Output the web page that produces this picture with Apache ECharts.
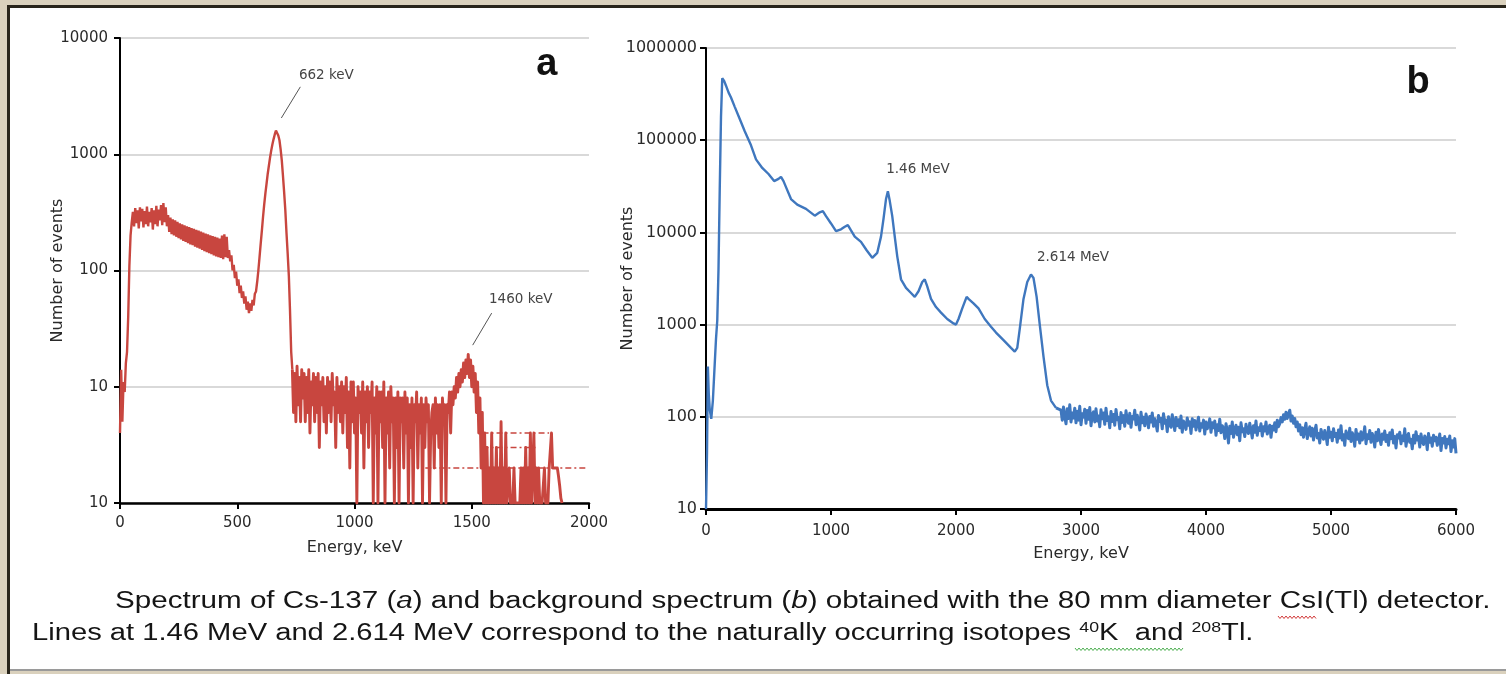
<!DOCTYPE html>
<html><head><meta charset="utf-8">
<script src="https://cdn.jsdelivr.net/npm/echarts@6/dist/echarts.min.js"></script>
<style>html,body{margin:0;padding:0;background:#fff;}#c{width:1506px;height:674px;}</style>
</head><body><div id="c"></div>
<script>
// ---------- DATA ----------
// Panel a: Cs-137 spectrum, counts per channel, channels every 5 keV starting at 0 keV
const channelStepA = 5;
const countsA = [
 4,14,5,11,9,16,20,40,110,200,260,
 320,240,345,255,330,230,350,265,340,235,325,250,355,240,320,260,345,225,330,250,360,240,335,270,365,245,380,260,350,240,
 300,215,285,205,275,200,270,195,262,190,
 255,185,250,180,245,176,240,172,236,168,
 232,165,228,160,224,157,220,154,216,150,
 212,147,208,144,205,141,201,138,198,135,
 195,132,192,130,188,128,200,125,205,130,
 195,128,
 150,120,135,100,112,86,98,74,84,64,74,58,66,52,60,46,54,43,52,45,56,50,63,66,80,100,130,170,220,290,
 370,460,560,680,800,940,1080,1220,1350,1480,1600,1560,1450,1320,1100,880,650,470,330,210,140,90,45,20,14,
 6,13,5,15,7,12,5,14,8,13,
 5,12,6,14,4,11,7,13,5,12,
 6,13,3,11,7,12,5,10,4,12,
 6,11,5,13,7,9,3,12,6,10,
 5,11,4,10,6,12,3,9,2,11,
 5,11,4,8,1,10,6,9,4,11,
 2,9,5,10,3,9,6,11,1,8,
 4,10,1,9,5,9,3,11,1,8,
 4,9,2,10,5,8,1,8,3,9,
 1,8,5,8,2,9,4,8,1,7,
 3,8,1,7,5,9,2,7,4,8,
 1,7,3,8,5,7,1,4,6,7,
 2,8,4,7,3,7,1,8,5,7,
 1,7,6,9,4,9,7,10,8,12,
 9,13,10,14,11,16,12,17,13,19,
 12,17,10,15,9,13,6,11,4,8,
 2,6,1,4,1,3,1,2,1,4,
 1,2,1,3,1,2,1,5,1,2,
 1,4,1,1,2,1,1,1,2,1,
 1,1,1,1,2,1,2,1,3,1,
 2,1,4,1,2,4,1,2,1,2,
 1,1,1,1,2,1,1,1,2,2,
 4,2,2,2,2,2,1.7,1.4,1.1,1
];
const noiseStartIndexA = 147; // channel index (735 keV) where the noisy high-energy part begins
// Panel a: dotted count levels (value, from keV, to keV)
const dotLevelsA = [4, 3, 2];
const dotFromA = [1546, 1546, 1302];
const dotToA = [1830, 1780, 1990];

// Panel b: background spectrum, main part (energy keV, counts)
const energyB = [0,8,15,22,30,42,55,70,80,90,100,110,120,130,145,160,180,200,230,270,
 310,360,400,450,500,545,580,600,620,640,680,730,800,870,910,935,960,1000,1040,1080,
 1110,1135,1160,1190,1240,1285,1330,1370,1400,1420,1440,1455,1470,1490,1510,1530,1560,1600,1640,1670,
 1700,1730,1750,1770,1800,1840,1880,1930,1980,2000,2020,2050,2085,2100,2140,2180,2230,2280,2320,2380,
 2440,2470,2490,2510,2540,2570,2600,2620,2645,2670,2700,2730,2760,2800];
const countsB = [10,40,350,180,120,95,150,380,700,1100,4000,30000,180000,470000,440000,390000,330000,290000,230000,170000,
 125000,88000,62000,50000,43000,36000,38000,40000,36000,31000,23000,20000,18000,15200,16500,17000,15000,12500,10300,10800,
 11500,12000,10500,9000,7900,6400,5300,6000,9000,14000,23000,28000,22000,15000,9000,5500,3100,2500,2200,2000,
 2300,2900,3100,2600,1900,1550,1350,1150,1030,1000,1150,1500,2000,1900,1700,1500,1150,950,820,680,
 560,510,560,900,1900,2900,3500,3200,2000,1000,450,220,150,125];
// Panel b: noisy tail, channels every 10 keV from 2840 keV
const tailStartB = 2840, tailStepB = 10;
const tailCountsB = [
 118,92,128,101,84,122,96,135,88,110,
 97,124,86,115,92,130,82,108,99,121,
 85,117,94,126,80,105,113,88,122,90,
 102,78,119,95,110,83,124,91,100,76,
 114,89,106,81,120,93,98,74,111,87,
 103,79,116,92,85,109,77,101,95,118,
 82,104,90,72,112,86,99,80,107,93,
 76,101,88,110,79,95,84,70,103,89,
 96,74,108,85,92,69,100,83,77,105,
 87,71,98,80,93,76,102,68,90,84,
 73,97,81,88,66,95,79,91,72,86,
 99,70,84,77,92,65,88,74,81,95,
 68,86,76,90,63,82,71,94,67,80,
 75,58,84,70,52,79,66,88,60,73,
 81,64,77,55,86,69,74,61,83,70,
 66,85,72,59,80,68,90,63,76,71,
 84,62,78,70,88,65,74,81,60,79,
 72,86,69,92,78,84,98,88,105,94,
 112,96,108,118,90,102,85,96,78,88,
 70,82,64,76,60,73,85,58,69,78,
 62,75,56,70,81,59,66,52,73,64,
 57,71,63,50,77,60,68,55,74,61,
 66,53,72,59,80,56,64,49,70,62,
 58,75,54,67,61,48,73,57,65,52,
 69,56,62,78,51,64,58,71,53,66,
 60,47,68,55,73,59,50,65,57,70,
 54,63,49,67,58,72,52,61,46,64,
 59,68,51,62,55,74,48,60,66,53,
 57,45,63,52,69,56,61,47,65,54,
 50,62,58,44,66,53,59,48,63,55,
 60,49,56,65,43,58,52,61,46,57,
 51,62,42,55,47,58,40
];

// Axis tick labels
const xTicksA = [0, 500, 1000, 1500, 2000];
const yTickLabelsA = ['10', '10', '100', '1000', '10000']; // as printed (bottom label reads "10")
const xTicksB = [0, 1000, 2000, 3000, 4000, 5000, 6000];
const yTickLabelsB = ['10', '100', '1000', '10000', '100000', '1000000'];

// Annotations (text, energy, count)
const annotTextA = ['662 keV', '1460 keV'];
const annotAtA = [[880, 4800], [1709, 56]];
const leaderFromA = [[769, 3800], [1585, 43]];
const leaderToA = [[688, 2050], [1504, 22.8]];
const annotTextB = ['1.46 MeV', '2.614 MeV'];
const annotAtB = [[1696, 48000], [2936, 5400]];
const panelLetterA = ['a', [1820, 5860]];
const panelLetterB = ['b', [5696, 427000]];

const captionLine1 = 'Spectrum of Cs-137 ({i|a}) and background spectrum ({i|b}) obtained with the 80 mm diameter CsI(Tl) detector.';
const captionLine2 = 'Lines at 1.46 MeV and 2.614 MeV correspond to the naturally occurring isotopes {sup|40}K  and {sup|208}Tl.';

// ---------- BUILD ----------
const allA = countsA.map((v, i) => [i * channelStepA, v]);
const dataA1 = allA.slice(0, noiseStartIndexA + 1);
const dataA2 = allA.slice(noiseStartIndexA);
const dataB1 = energyB.map((e, i) => [e, countsB[i]]);
const dataB2 = [dataB1[dataB1.length - 1]].concat(tailCountsB.map((v, i) => [tailStartB + i * tailStepB, v]));

const RED = '#c8463f', BLUE = '#3f77be';
const FONT = 'DejaVu Sans';
const tickColor = '#2a2a2a';

function xAxisCfg(grid, max, interval, axisW, fs, margin) {
  return {
    type: 'value', gridIndex: grid, min: 0, max: max, interval: interval,
    axisLine: { show: true, onZero: false, lineStyle: { color: '#000', width: axisW } },
    axisTick: { show: true, length: 6, lineStyle: { color: '#000', width: 2 } },
    axisLabel: { fontFamily: FONT, fontSize: fs, color: tickColor, margin: margin, formatter: v => String(v) },
    splitLine: { show: false },
    name: 'Energy, keV', nameLocation: 'middle', nameGap: 37, nameMoveOverlap: false,
    nameTextStyle: { fontFamily: FONT, fontSize: 16, color: tickColor }
  };
}
function yAxisCfg(grid, min, max, labels, gap, margin, fs) {
  return {
    type: 'log', logBase: 10, gridIndex: grid, min: min, max: max,
    axisLine: { show: true, lineStyle: { color: '#000', width: 2 } },
    axisTick: { show: true, length: 6, lineStyle: { color: '#000', width: 2 } },
    axisLabel: {
      fontFamily: FONT, fontSize: fs, color: tickColor, margin: margin,
      formatter: v => labels[Math.round(Math.log10(v) - Math.log10(min))]
    },
    splitLine: { show: true, lineStyle: { color: '#cdcdcd', width: 1.5 } },
    minorTick: { show: false },
    name: 'Number of events', nameLocation: 'middle', nameRotate: 90, nameGap: gap, nameMoveOverlap: false,
    nameTextStyle: { fontFamily: FONT, fontSize: 16, color: tickColor }
  };
}
const annotLabel = { show: true, position: 'inside', formatter: '{b}', fontFamily: FONT, fontSize: 13.5, color: '#444' };
const letterLabel = { fontFamily: 'Liberation Sans', fontSize: 38, fontWeight: 'bold', color: '#111' };

const series = [
  {
    type: 'line', xAxisIndex: 0, yAxisIndex: 0, data: dataA1, symbol: 'none', sampling: null,
    lineStyle: { color: RED, width: 2.4 }, z: 3, silent: true,
    markLine: {
      silent: true, symbol: ['none', 'none'], label: { show: false },
      lineStyle: { color: '#555', width: 1, type: 'solid' },
      data: leaderFromA.map((f, i) => [{ coord: f }, { coord: leaderToA[i] }])
    },
    markPoint: {
      silent: true, symbol: 'rect', symbolSize: 1, itemStyle: { color: 'rgba(0,0,0,0)' },
      label: annotLabel,
      data: annotTextA.map((t, i) => ({ name: t, coord: annotAtA[i] }))
        .concat([{ name: panelLetterA[0], coord: panelLetterA[1], label: letterLabel }])
    }
  },
  {
    type: 'line', xAxisIndex: 0, yAxisIndex: 0, data: dataA2, symbol: 'none', sampling: null,
    lineStyle: { color: RED, width: 2.9, join: 'round' }, z: 3, silent: true
  }
].concat(dotLevelsA.map((lv, i) => ({
  type: 'line', xAxisIndex: 0, yAxisIndex: 0, symbol: 'none', silent: true, z: 4,
  data: [[dotFromA[i], lv], [dotToA[i], lv]],
  lineStyle: { color: RED, width: 1.6, type: [6, 3, 2, 3] }
}))).concat([
  {
    type: 'line', xAxisIndex: 1, yAxisIndex: 1, data: dataB1, symbol: 'none', sampling: null,
    lineStyle: { color: BLUE, width: 2.4 }, z: 3, silent: true,
    markPoint: {
      silent: true, symbol: 'rect', symbolSize: 1, itemStyle: { color: 'rgba(0,0,0,0)' },
      label: annotLabel,
      data: annotTextB.map((t, i) => ({ name: t, coord: annotAtB[i] }))
        .concat([{ name: panelLetterB[0], coord: panelLetterB[1], label: letterLabel }])
    }
  },
  {
    type: 'line', xAxisIndex: 1, yAxisIndex: 1, data: dataB2, symbol: 'none', sampling: null,
    lineStyle: { color: BLUE, width: 3, join: 'round' }, z: 3, silent: true
  }
]);

// spell-check style wavy underlines in the caption (decoration)
function squiggle(x0, x1, y) {
  const pts = [];
  for (let x = x0, k = 0; x <= x1; x += 2, k++) pts.push([x, y + (k % 2 ? 1.5 : -1)]);
  return pts;
}

const BEIGE = '#dad1bd', DARK = '#29251b';
const capStyle = { fontFamily: 'Liberation Sans', fontSize: 23, fill: '#151515', verticalAlign: 'middle', lineHeight: 26 };

const option = {
  animation: false,
  backgroundColor: '#ffffff',
  grid: [
    { left: 120, top: 38, width: 469, height: 465, containLabel: false },
    { left: 706, top: 48, width: 750, height: 461, containLabel: false }
  ],
  xAxis: [xAxisCfg(0, 2000, 500, 2.5, 15, 13), xAxisCfg(1, 6000, 1000, 3, 15, 15)],
  yAxis: [yAxisCfg(0, 1, 10000, yTickLabelsA, 54, 12, 15), yAxisCfg(1, 10, 1000000, yTickLabelsB, 70, 9, 16)],
  series: series,
  graphic: [
    { type: 'rect', silent: true, shape: { x: 0, y: 0, width: 1506, height: 5 }, style: { fill: BEIGE } },
    { type: 'rect', silent: true, shape: { x: 0, y: 0, width: 7, height: 674 }, style: { fill: BEIGE } },
    { type: 'rect', silent: true, shape: { x: 0, y: 671, width: 1506, height: 3 }, style: { fill: BEIGE } },
    { type: 'rect', silent: true, shape: { x: 7, y: 5, width: 1499, height: 3 }, style: { fill: DARK } },
    { type: 'rect', silent: true, shape: { x: 7, y: 5, width: 3, height: 669 }, style: { fill: DARK } },
    { type: 'rect', silent: true, shape: { x: 10, y: 669, width: 1496, height: 2 }, style: { fill: '#9a9a9a' } },
    {
      type: 'text', silent: true, x: 115, y: 602, scaleX: 1.287,
      style: Object.assign({}, capStyle, {
        text: captionLine1,
        rich: { i: { fontFamily: 'Liberation Sans', fontSize: 23, fontStyle: 'italic', lineHeight: 26 } }
      })
    },
    {
      type: 'text', silent: true, x: 32, y: 634, scaleX: 1.268,
      style: Object.assign({}, capStyle, {
        text: captionLine2,
        rich: { sup: { fontFamily: 'Liberation Sans', fontSize: 14, lineHeight: 14, verticalAlign: 'top' } }
      })
    },
    { type: 'polyline', silent: true, shape: { points: squiggle(1278, 1316, 617) }, style: { stroke: '#d23a3a', lineWidth: 1, fill: null } },
    { type: 'polyline', silent: true, shape: { points: squiggle(1075, 1183, 649) }, style: { stroke: '#4caf50', lineWidth: 1, fill: null } }
  ]
};

const chart = echarts.init(document.getElementById('c'), null, { renderer: 'canvas' });
chart.setOption(option);
</script>
</body></html>
